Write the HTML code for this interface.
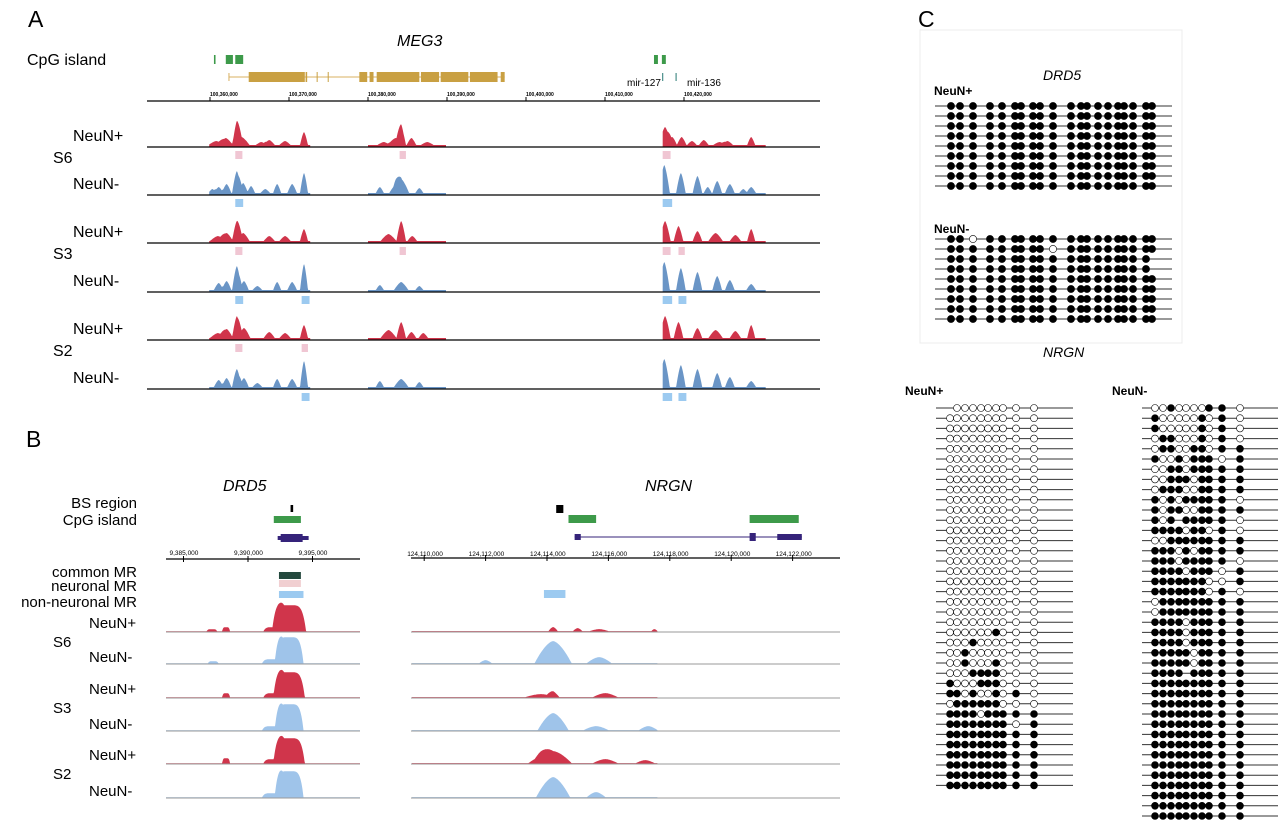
<!DOCTYPE html>
<html><head><meta charset="utf-8"><style>
html,body{margin:0;padding:0;background:#fff}
svg{display:block;font-family:"Liberation Sans",Arial,sans-serif}
</style></head><body>
<svg id="fig" width="1280" height="822" viewBox="0 0 1280 822">
<g id="static">
<text x="28" y="27" font-size="23">A</text>
<text x="26" y="447" font-size="23">B</text>
<text x="918" y="27" font-size="23">C</text>
<text x="397" y="46" font-size="16" font-style="italic">MEG3</text>
<text x="27" y="65" font-size="16">CpG island</text>
<text x="627" y="86" font-size="10">mir-127</text>
<text x="687" y="86" font-size="10">mir-136</text>
<text x="223" y="491" font-size="16" font-style="italic">DRD5</text>
<text x="645" y="491" font-size="16" font-style="italic">NRGN</text>
<g font-size="15" text-anchor="end">
<text x="137" y="508">BS region</text>
<text x="137" y="525">CpG island</text>
<text x="137" y="577">common MR</text>
<text x="137" y="591">neuronal MR</text>
<text x="137" y="607">non-neuronal MR</text>
</g>
<text x="1043" y="80" font-size="14" font-style="italic">DRD5</text>
<text x="934" y="95" font-size="12" font-weight="bold">NeuN+</text>
<text x="934" y="233" font-size="12" font-weight="bold">NeuN-</text>
<text x="1043" y="357" font-size="14" font-style="italic">NRGN</text>
<text x="905" y="395" font-size="12" font-weight="bold">NeuN+</text>
<text x="1112" y="395" font-size="12" font-weight="bold">NeuN-</text>
<rect x="920" y="30" width="262" height="313" fill="none" stroke="#ececec"/>
</g>
</svg>
<script>
const NS='http://www.w3.org/2000/svg';
const svg=document.getElementById('fig');
function mk(tag,attrs,parent){const e=document.createElementNS(NS,tag);for(const k in attrs)e.setAttribute(k,attrs[k]);(parent||svg).appendChild(e);return e;}

// ---------- DATA ----------
const aTickKb=[0,10,20,30,40,50,60];
const aTickLabels=['100,360,000','100,370,000','100,380,000','100,390,000','100,400,000','100,410,000','100,420,000'];
const aRegions=[[-0.1,12.7],[20.0,29.9],[57.3,70.4]];
const aCpG=[[0.5,0.7],[2.0,2.9],[3.2,4.2],[56.2,56.7],[57.2,57.7]];
const aExons=[[4.9,12.0],[12.1,12.3],[13.5,13.6],[14.9,15.0],[18.9,19.9],[20.2,20.7],[21.1,26.5],[26.7,29.0],[29.2,32.7],[32.9,36.4],[36.8,37.3]];
const aGeneSpan=[2.4,37.3];
const aMirs=[57.3,59.0];
const aTracks=[
 {s:'S6',t:'NeuN+',peaks:[[0.8,4,1.0],[2.0,7,0.9],[3.4,20,0.6],[4.0,8,1.0],[6.5,3,0.7],[7.5,5,0.7],[9.5,4,0.7],[11.9,13,0.5],[22.0,3,0.8],[23.5,7,1.0],[24.2,18,0.6],[25.5,7,0.6],[27.5,3,0.8],[57.6,18,0.8],[58.5,8,0.6],[59.7,8,0.6],[61.0,4,0.6],[62.5,5,0.6],[64.5,3,0.8],[65.5,4,0.7],[68.5,8,0.5]]},
 {s:'S6',t:'NeuN-',peaks:[[0.3,4,0.5],[1.1,6,0.6],[2.1,9,0.6],[3.4,22,0.6],[4.2,10,0.6],[5.2,7,0.5],[7.0,4,0.6],[8.5,9,0.5],[10.4,9,0.6],[11.9,20,0.5],[21.5,6,0.5],[23.5,8,0.8],[24.2,14,1.0],[26.5,5,0.5],[57.5,28,0.7],[59.6,20,0.6],[61.7,17,0.6],[63.0,6,0.5],[64.2,12,0.6],[65.8,9,0.6],[67.5,4,0.5],[68.5,6,0.6]]},
 {s:'S3',t:'NeuN+',peaks:[[1.0,5,1.0],[2.1,8,0.8],[3.4,20,0.6],[4.2,8,0.8],[7.5,5,0.7],[9.5,5,0.7],[11.9,12,0.5],[22.6,7,1.0],[24.2,20,0.6],[25.6,5,0.6],[57.6,20,0.7],[59.3,15,0.6],[61.7,10,0.6],[64.0,8,0.9],[66.5,6,0.7],[68.5,12,0.5]]},
 {s:'S3',t:'NeuN-',peaks:[[1.1,7,0.6],[2.1,9,0.6],[3.4,24,0.6],[4.3,9,0.6],[6.0,4,0.6],[8.5,8,0.5],[10.4,8,0.6],[11.9,26,0.5],[21.5,5,0.5],[24.2,8,0.9],[26.5,4,0.5],[57.5,28,0.7],[59.6,22,0.6],[61.7,18,0.6],[64.2,14,0.6],[65.8,10,0.6],[68.5,6,0.6]]},
 {s:'S2',t:'NeuN+',peaks:[[1.0,5,1.0],[2.1,9,0.8],[3.4,22,0.6],[4.3,10,0.8],[7.5,6,0.7],[9.5,5,0.7],[11.9,13,0.5],[22.6,8,1.0],[24.2,16,0.6],[25.5,6,0.6],[27.0,5,0.6],[57.6,22,0.7],[59.3,16,0.6],[61.7,10,0.6],[64.0,8,0.9],[66.5,7,0.7],[68.5,13,0.5]]},
 {s:'S2',t:'NeuN-',peaks:[[1.1,7,0.6],[2.1,9,0.6],[3.4,18,0.6],[4.3,9,0.6],[6.0,4,0.6],[8.5,8,0.5],[10.4,8,0.6],[11.9,26,0.5],[21.5,6,0.5],[24.2,8,0.9],[26.5,5,0.5],[57.5,28,0.7],[59.6,22,0.6],[61.7,18,0.6],[64.2,14,0.6],[65.8,10,0.6],[68.5,6,0.6]]}
];
const aMRs=[[[3.2,4.1],[24.0,24.8],[57.3,58.3]],[[3.2,4.2],[57.3,58.5]],[[3.2,4.1],[24.0,24.8],[57.3,58.3],[59.3,60.1]],[[3.2,4.2],[11.6,12.6],[57.3,58.5],[59.3,60.3]],[[3.2,4.1],[11.6,12.4]],[[11.6,12.6],[57.3,58.5],[59.3,60.3]]];

const dTickKb=[9385,9390,9395];
const dTickLabels=['9,385,000','9,390,000','9,395,000'];
const dBS=[9393.3,9393.5];
const dCpG=[9392.0,9394.1];
const dGene=[9392.3,9394.7];
const dMR={common:[9392.4,9394.1],neuronal:[9392.4,9394.1],nonneuronal:[9392.4,9394.3]};
const dPeaks=[
 [[9388.3,4,0.3],[9387.2,2,0.4],[9392.0,4,0.8],[9393.2,26,1.3]],
 [[9387.3,2,0.4],[9391.9,4,0.8],[9393.2,26,1.1]],
 [[9388.3,4,0.3],[9392.0,4,0.8],[9393.2,25,1.2]],
 [[9391.9,4,0.8],[9393.2,26,1.1]],
 [[9388.3,5,0.3],[9392.0,4,0.8],[9393.2,25,1.2]],
 [[9391.9,4,0.8],[9393.2,26,1.1]]
];
const nTickKb=[124110,124112,124114,124116,124118,124120,124122];
const nTickLabels=['124,110,000','124,112,000','124,114,000','124,116,000','124,118,000','124,120,000','124,122,000'];
const nBS=[124114.3,124114.5];
const nCpG=[[124114.7,124115.6],[124120.6,124122.2]];
const nExons=[[124114.9,124115.1],[124120.6,124120.8],[124121.5,124122.3]];
const nGeneSpan=[124114.9,124122.3];
const nMR=[124113.9,124114.6];
const nPeaks=[
 [[124114.2,4,0.15],[124115.0,3,0.15],[124115.7,2,0.3],[124117.5,2,0.1]],
 [[124112.0,3,0.2],[124114.2,22,0.6],[124115.7,6,0.4]],
 [[124113.8,3,0.5],[124114.2,5,0.2],[124115.9,4,0.4]],
 [[124114.2,17,0.5],[124115.6,4,0.4],[124117.3,4,0.3]],
 [[124113.8,6,0.4],[124114.2,12,0.6],[124115.9,4,0.4],[124117.2,3,0.3]],
 [[124114.2,20,0.55],[124115.6,5,0.3]]
];
const nRegion=[124109.6,124117.6];

const drd5Plus=Array(9).fill('11111111111111111111');
const drd5Minus=['11011111111111111111','11111111101111111111','1111111111111111111-','1111111111111111111-','11111111111111111111','11111111111111111111','11111111111111111111','11111111111111111111','11111111111111111111'];
const nrgnPlus=['-000000000'].concat(Array(21).fill('0000000000'),['0000001000','0001000000','0010000000','0010001000','0001111000','1000111000','1101001010','0111111000','1111011111','1111111101'],Array(6).fill('1111111111'));
const nrgnMinus=['0010000110','1000001010','1000001010','0110001010','0110011011','1001011101','0011011111','0011101111','0111001111','1010111110','1011001111','101-111110','1111011010','0011111111','1110101111','1110111110','1111011101','1111111001','1111111010','0111111111','0111111111','1111011111','1111011111','1111011111','1111101111','1111101111','1111-11111'].concat(Array(14).fill('1111111111'));

// ---------- SCALES ----------
const xA=kb=>210+kb*7.9;
const xD=kb=>248+(kb-9390)*12.9;
const xN=kb=>547+(kb-124114)*30.7;
const RED='#d0354b', BLUEA='#6a95c6', BLUEB='#9fc4ea', PINK='#f0c6d3', MRBLUE='#9ccaf0';

function profile(peaks,x0,x1,scale,pw,base){
  let pts=[];
  for(let px=x0;px<=x1;px+=0.5){
    let v=base;
    for(const p of peaks){const d=Math.abs(px-scale(p[0]))/(Math.abs(scale(p[0]+p[2])-scale(p[0]))||1);if(d<1)v+=p[1]*(1-Math.pow(d,pw));}
    pts.push([px,v]);
  }
  return pts;
}
function area(pts,y,color,g,name){
  let d='M'+pts[0][0]+' '+y;
  for(const p of pts)d+=' L'+p[0].toFixed(1)+' '+(y-p[1]).toFixed(1);
  d+=' L'+pts[pts.length-1][0]+' '+y+' Z';
  const e=mk('path',{d:d,fill:color},g);
  
  
}

// ---------- PANEL A ----------
const gA=mk('g',{});


aCpG.forEach(c=>{const r=mk('rect',{x:xA(c[0]),y:55,width:Math.max(1.5,xA(c[1])-xA(c[0])),height:9,fill:'#3d9a4a'},gA);
 
 });
const gl=mk('line',{x1:xA(aGeneSpan[0]),x2:xA(aGeneSpan[1]),y1:77,y2:77,stroke:'#d8b060','stroke-width':1},gA);


mk('line',{x1:xA(aGeneSpan[0]),x2:xA(aGeneSpan[0]),y1:73,y2:81,stroke:'#d8b060'},gA);
aExons.forEach(e=>{const r=mk('rect',{x:xA(e[0]),y:72,width:Math.max(1,xA(e[1])-xA(e[0])),height:10,fill:'#c9a043'},gA);
 
 });
aMirs.forEach(m=>{const l=mk('line',{x1:xA(m),x2:xA(m),y1:73,y2:81,stroke:'#4a8f8a','stroke-width':1.2},gA);
 
 });
const axA=mk('line',{x1:147,x2:820,y1:101,y2:101,stroke:'#000','stroke-width':1.3},gA);


aTickKb.forEach((k,i)=>{mk('line',{x1:xA(k),x2:xA(k),y1:97,y2:101,stroke:'#000'},gA);
 const t=mk('text',{x:xA(k),y:96,'font-size':5,'font-weight':'bold'},gA);t.textContent=aTickLabels[i];
 
 });
const aBase=[147,195,243,292,340,389];
aTracks.forEach((tr,i)=>{
  const y=aBase[i];const col=tr.t==='NeuN+'?RED:BLUEA;
  aRegions.forEach(r=>area(profile(tr.peaks,xA(r[0]),xA(r[1]),xA,1.4,2),y,col,gA,'coverage-a'));
  const ln=mk('line',{x1:147,x2:820,y1:y,y2:y,stroke:'#000','stroke-width':1.2},gA);
  
  
  aMRs[i].forEach(m=>{const r=mk('rect',{x:xA(m[0]),y:y+4,width:xA(m[1])-xA(m[0]),height:8,fill:tr.t==='NeuN+'?PINK:MRBLUE},gA);
   
   });
  const lab=mk('text',{x:73,y:y-6,'font-size':16},gA);lab.textContent=tr.t;
  
  
  if(i%2===0){const s=mk('text',{x:53,y:y+16,'font-size':16},gA);s.textContent=tr.s;
   
   }
});

// ---------- PANEL B ----------
const gB=mk('g',{});


function rectB(x1,x2,y,h,fill,name){const r=mk('rect',{x:x1,y:y,width:x2-x1,height:h,fill:fill},gB);
 
 return r;}
rectB(xD(dBS[0]),xD(dBS[1]),505,7,'#000','drd5-bs-region');
rectB(xD(dCpG[0]),xD(dCpG[1]),516,7,'#3d9a4a','drd5-cpg-island');
rectB(xD(dGene[0]),xD(dGene[1]),536,4,'#35237a','drd5-gene');
rectB(xD(dGene[0])+3,xD(dGene[1])-6,534,8,'#35237a','drd5-exon');
rectB(xD(dMR.common[0]),xD(dMR.common[1]),572,7,'#24493e','common-mr-box');
rectB(xD(dMR.neuronal[0]),xD(dMR.neuronal[1]),580,7,'#f1cfd1','neuronal-mr-box');
rectB(xD(dMR.nonneuronal[0]),xD(dMR.nonneuronal[1]),591,7,MRBLUE,'non-neuronal-mr-box');
const axD=mk('line',{x1:166,x2:360,y1:559,y2:559,stroke:'#000','stroke-width':1.3},gB);


dTickKb.forEach((k,i)=>{mk('line',{x1:xD(k),x2:xD(k),y1:556,y2:562,stroke:'#000'},gB);
 const t=mk('text',{x:xD(k)-14,y:555,'font-size':6.5},gB);t.textContent=dTickLabels[i];
 
 });
rectB(xN(nBS[0]),xN(nBS[1])+1,505,8,'#000','nrgn-bs-region');
nCpG.forEach(c=>rectB(xN(c[0]),xN(c[1]),515,8,'#3d9a4a','nrgn-cpg-island'));
const nl=mk('line',{x1:xN(nGeneSpan[0]),x2:xN(nGeneSpan[1]),y1:537,y2:537,stroke:'#35237a','stroke-width':1},gB);


nExons.forEach((e,i)=>rectB(xN(e[0]),xN(e[1]),i===1?533:534,i===1?8:6,'#35237a','nrgn-exon'));
rectB(xN(nMR[0]),xN(nMR[1]),590,8,MRBLUE,'nrgn-mr-box');
const axN=mk('line',{x1:411,x2:840,y1:558,y2:558,stroke:'#000','stroke-width':1.3},gB);


nTickKb.forEach((k,i)=>{mk('line',{x1:xN(k),x2:xN(k),y1:555,y2:561,stroke:'#000'},gB);
 const t=mk('text',{x:xN(k)-17,y:556,'font-size':6.5},gB);t.textContent=nTickLabels[i];
 
 });
const bBase=[632,664,698,731,764,798];
const bSamples=['S6','S6','S3','S3','S2','S2'];
bBase.forEach((y,i)=>{
  const plus=i%2===0;const col=plus?RED:BLUEB;
  area(profile(dPeaks[i],166,360,xD,5,0.8),y,col,gB,'coverage-drd5');
  area(profile(nPeaks[i],xN(nRegion[0]),xN(nRegion[1]),xN,1.6,0.9),y,col,gB,'coverage-nrgn');
  [[166,360],[411,840]].forEach(s=>{const l=mk('line',{x1:s[0],x2:s[1],y1:y,y2:y,stroke:'#999','stroke-width':1},gB);
   
   });
  const lab=mk('text',{x:89,y:y-4+(plus?0:2),'font-size':15},gB);lab.textContent=plus?'NeuN+':'NeuN-';
  
  
  if(plus){const s=mk('text',{x:53,y:y+15,'font-size':15},gB);s.textContent=bSamples[i];
   
   }
});

// ---------- PANEL C ----------
const gC=mk('g',{});


const drd5Cols=[951,960,973,990,1002,1015,1021,1033,1040,1053,1071,1081,1087,1098,1108,1118,1124,1133,1146,1152];
const nPlusCols=[950,957,965,973,981,988,996,1003,1016,1034];
const nMinusCols=[1155,1163,1171,1179,1186,1194,1202,1209,1222,1240];
function lollipop(rows,cols,x1,x2,y0,dy,r,name){
  rows.forEach((row,i)=>{
    const y=y0+i*dy;
    const l=mk('line',{x1:x1,x2:x2,y1:y,y2:y,stroke:'#333','stroke-width':1},gC);
    
    
    for(let j=0;j<row.length;j++){
      if(row[j]==='-')continue;
      const c=mk('circle',{cx:cols[j],cy:y,r:r,fill:row[j]==='1'?'#000':'#fff',stroke:'#000','stroke-width':0.6},gC);
      
      
    }
  });
}
lollipop(drd5Plus,drd5Cols,935,1172,106,10,3.6,'drd5-neun-plus');
lollipop(drd5Minus,drd5Cols,935,1172,239,10,3.6,'drd5-neun-minus');
lollipop(nrgnPlus,nPlusCols,936,1073,408,10.2,3.5,'nrgn-neun-plus');
lollipop(nrgnMinus,nMinusCols,1142,1278,408,10.2,3.5,'nrgn-neun-minus');
</script>
</body></html>
